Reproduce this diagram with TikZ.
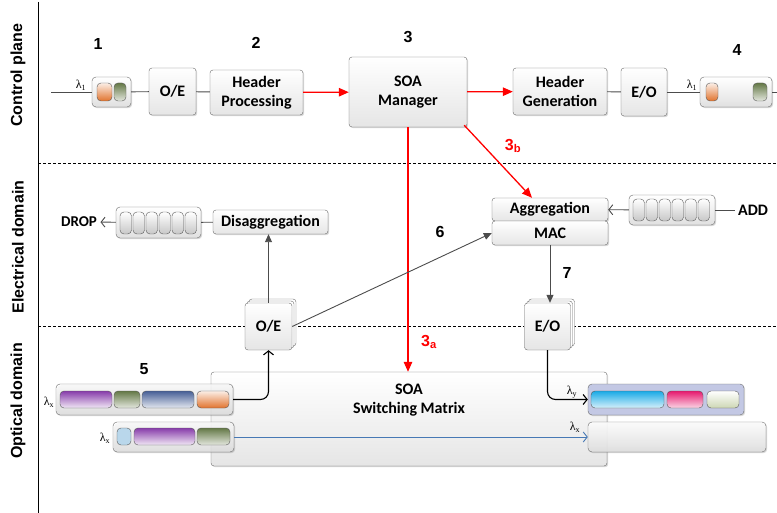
\documentclass[tikz,border=0pt]{standalone}
\usepackage{fontspec}
\setmainfont{Carlito}
\newfontfamily\arial{Liberation Sans}
\newfontfamily\tnr{Liberation Serif}
\usetikzlibrary{arrows.meta,shadows}
\definecolor{edge}{RGB}{105,105,105}
\definecolor{purp}{RGB}{135,60,170}
\definecolor{olive}{RGB}{100,120,70}
\definecolor{navy}{RGB}{70,95,150}
\definecolor{orng}{RGB}{225,115,45}
\definecolor{sky}{RGB}{185,215,235}
\definecolor{cyn}{RGB}{25,170,230}
\definecolor{pnk}{RGB}{230,25,110}
\definecolor{sage}{RGB}{205,215,180}
\definecolor{lav}{RGB}{195,200,228}
\definecolor{wire}{RGB}{70,120,180}
\tikzset{>/.tip={Triangle[length=8pt,width=7pt]},
  big/.tip={Triangle[length=10pt,width=8.5pt]},
  open/.tip={Straight Barb[length=4pt,width=10pt]},
  box/.style={draw=edge, rounded corners=3pt, top color=white, bottom color=black!10,
    drop shadow={shadow xshift=1.2pt, shadow yshift=-1.2pt, opacity=.3},
    font=\bfseries\fontsize{16}{19}\selectfont, align=center, inner sep=0pt},
  stack/.style={draw=edge, rounded corners=3pt, top color=white, bottom color=black!10,
    double copy shadow={shadow xshift=2pt, shadow yshift=2pt, draw=edge, fill=white},
    font=\bfseries\fontsize{16}{19}\selectfont, inner sep=0pt},
  holder/.style={draw=edge, rounded corners=4pt, top color=white, bottom color=black!12,
    drop shadow={shadow xshift=1.2pt, shadow yshift=-1.2pt, opacity=.3}, inner sep=0pt},
  pill/.style={draw=black!65, rounded corners=4pt},
  ppur/.style={top color=purp, bottom color=purp!12!white},
  polv/.style={top color=olive, bottom color=olive!18!white},
  pnav/.style={top color=navy, bottom color=navy!15!white},
  porg/.style={top color=orng!12!white, bottom color=orng},
  psky/.style={fill=sky},
  pcyn/.style={top color=cyn, bottom color=cyn!18!white},
  ppnk/.style={top color=pnk, bottom color=pnk!18!white},
  psag/.style={top color=white, bottom color=sage},
  pgry/.style={top color=white, bottom color=black!22},
  num/.style={font=\arial\bfseries\fontsize{16}{18}\selectfont},
  side/.style={num, rotate=90},
  lam/.style={font=\tnr\fontsize{12}{12}\selectfont, inner sep=1pt},
  wirestyle/.style={black!70, line width=0.9pt},
  ctl/.style={red, line width=1.3pt, -big},
  split/.style={dash pattern=on 3pt off 2pt, line width=0.5pt}
}
\begin{document}
\begin{tikzpicture}[x=1pt,y=-1pt]
\useasboundingbox (0,0) rectangle (777,513);
\draw[line width=0.7pt] (38,2) -- (38,513);
\draw[split] (38,163) -- (777,163);
\draw[split] (38,326) -- (777,326);
\node[side] (cp) at (18,75) {Control plane};
\node[side] (ed) at (18,247) {Electrical domain};
\node[side] (od) at (18,401) {Optical domain};

\node[num] (n1) at (98,44) {1};
\node[num] (n2) at (256,43) {2};
\node[num] (n3) at (408,37) {3};
\node[num] (n4) at (737,50) {4};
\node[num] (n5) at (144,369) {5};
\node[num] (n6) at (440,232) {6};
\node[num] (n7) at (567,273) {7};
\node[num, red] (n3b) at (513,146) {3\textsubscript{b}};
\node[num, red] (n3a) at (429,342) {3\textsubscript{a}};

\node[holder, minimum width=39pt, minimum height=30pt] (q1) at (111.5,92) {};
\node[box, minimum width=47pt, minimum height=47pt] (oe1) at (172.5,91.5) {O/E};
\node[box, minimum width=93pt, minimum height=45pt] (hp) at (256.5,92.5) {Header\\Processing};
\node[box, minimum width=118pt, minimum height=70pt] (man) at (408,92) {SOA\\Manager};
\node[box, minimum width=94pt, minimum height=47pt] (hg) at (560,91.5) {Header\\Generation};
\node[box, minimum width=46pt, minimum height=48pt] (eo1) at (644,92) {E/O};
\node[holder, minimum width=72pt, minimum height=30pt] (q4) at (736,92) {};
\coordinate (in1) at (51,92);
\coordinate (out1) at (777,92);
\node[lam] (l1) at (81,85) {λ\textsubscript{1}};
\node[lam] (l4) at (692,85) {λ\textsubscript{1}};
\foreach \a/\b/\s in {97/112/porg, 114/126/polv, 706/718/porg, 753/767/polv}
  \draw[pill,\s] (\a,83) rectangle (\b,101);

\node[box, minimum width=116pt, minimum height=23pt] (agg) at (550,209.5) {Aggregation};
\node[box, minimum width=116pt, minimum height=24pt] (mac) at (550,233) {MAC};
\node[holder, minimum width=86pt, minimum height=30pt] (qa) at (672,210) {};
\node[box, minimum width=115pt, minimum height=24pt] (dis) at (270.5,222) {Disaggregation};
\node[holder, minimum width=85pt, minimum height=31pt] (qd) at (158.5,222.5) {};
\node[font=\bfseries\fontsize{15}{16}\selectfont] (drop) at (79,222) {DROP};
\node[font=\bfseries\fontsize{16}{16}\selectfont] (add) at (753,210) {ADD};
\foreach \i in {0,...,5}
{
  \draw[pill,pgry] ({120+\i*13},212) rectangle ({131.5+\i*13},234);
  \draw[pill,pgry] ({633+\i*13},199) rectangle ({644.5+\i*13},221);
}
\node[stack, minimum width=47pt, minimum height=47pt] (oe2) at (268.5,326.5) {O/E};
\node[stack, minimum width=46pt, minimum height=47pt] (eo2) at (547.5,326.5) {E/O};

\node[box, minimum width=396pt, minimum height=94pt,
  label={[font=\bfseries\fontsize{16}{19}\selectfont, align=center, yshift=19pt]center:SOA\\Switching Matrix}] (sw) at (409,419) {};
\node[holder, fill opacity=0.8, minimum width=177pt, minimum height=31pt] (p5) at (144.5,399.5) {};
\node[holder, fill opacity=0.8, minimum width=121pt, minimum height=30pt] (p6) at (173.5,437) {};
\node[holder, top color=lav, bottom color=lav, minimum width=156pt, minimum height=31pt] (r1) at (666,399.5) {};
\node[holder, fill opacity=0.9, minimum width=178pt, minimum height=30pt] (r2) at (677,437) {};
\foreach \a/\b/\s in {60/112/ppur, 114/140/polv, 142/194/pnav, 197/229/porg, 591/664/pcyn, 667/703/ppnk, 707/739/psag}
  \draw[pill,\s] (\a,391) rectangle (\b,408);
\foreach \a/\b/\s in {117/131/psky, 134/195/ppur, 197/230/polv}
  \draw[pill,\s] (\a,428) rectangle (\b,445);
\node[lam] (l5) at (49,402) {λ\textsubscript{x}};
\node[lam] (l6) at (105,438) {λ\textsubscript{x}};
\node[lam] (ly) at (572,392) {λ\textsubscript{y}};
\node[lam] (lx) at (575,427) {λ\textsubscript{x}};

\draw[wirestyle] (in1) -- (q1);
\draw[wirestyle] (q1) -- (oe1);
\draw[wirestyle] (oe1) -- (hp);
\draw[ctl] (hp) -- (man);
\draw[ctl] (man) -- (hg);
\draw[wirestyle] (hg) -- (eo1);
\draw[wirestyle] (eo1) -- (q4);
\draw[wirestyle] (q4) -- (out1);
\draw[ctl] (man.south) -- (man.south |- sw.north);
\draw[ctl] ([xshift=-3pt,yshift=2pt]man.south east) -- ([xshift=-18pt]agg.north);
\draw[wirestyle, ->] (oe2) -- (oe2 |- dis.south);
\draw[wirestyle] (dis) -- (qd);
\draw[wirestyle, -open] (qd) -- (drop);
\draw[wirestyle, -open] (qa) -- (agg);
\draw[wirestyle] (qa) -- (add);
\draw[wirestyle, ->] (oe2.east) -- (mac.west);
\draw[wirestyle, ->] (mac) -- (mac |- eo2.north);
\draw[black, line width=1.1pt, rounded corners=8pt, -open] (p5.east) -| (oe2.south);
\draw[black, line width=1.1pt, rounded corners=8pt, -open] (eo2.south) |- (r1.west);
\draw[wire, line width=0.9pt, -open] (p6.east) -- (r2.west);
\end{tikzpicture}
\end{document}
